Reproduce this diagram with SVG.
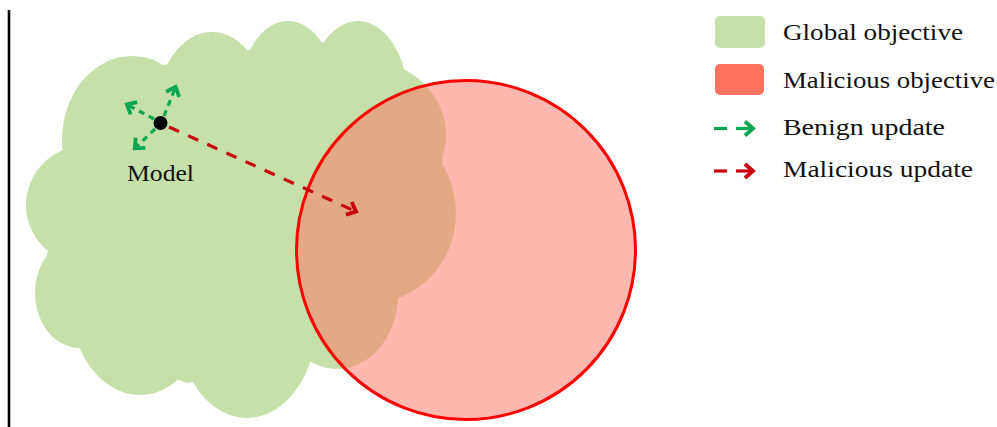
<svg xmlns="http://www.w3.org/2000/svg" width="997" height="427" viewBox="0 0 997 427">
<style>
.cloud{fill:#c5e1a9}
.lbl{font-family:"Liberation Serif","Times New Roman",serif;font-size:24px;fill:#111}
.gdash{fill:none;stroke:#0ba64f;stroke-width:3.2;stroke-dasharray:6 5}
.rdash{fill:none;stroke:#c8000a;stroke-width:3.2;stroke-dasharray:11 10}
.ghead{fill:none;stroke:#0ba64f;stroke-width:3.8;stroke-linejoin:miter;stroke-linecap:butt}
.rhead{fill:none;stroke:#c8000a;stroke-width:3.8;stroke-linejoin:miter;stroke-linecap:butt}
</style>
<defs>
<marker id="ag" markerUnits="userSpaceOnUse" markerWidth="24" markerHeight="24" refX="12" refY="12" orient="auto" overflow="visible">
<path d="M3,5 L11,12 L3,19" class="ghead"/>
</marker>
<marker id="ar" markerUnits="userSpaceOnUse" markerWidth="24" markerHeight="24" refX="12" refY="12" orient="auto" overflow="visible">
<path d="M3,5 L11,12 L3,19" class="rhead"/>
</marker>
</defs>
<rect width="997" height="427" fill="#ffffff"/>
<line x1="9" y1="10" x2="9" y2="427" stroke="#000" stroke-width="2.6"/>
<g id="global-objective">
<g class="cloud">
<polygon points="64,150 163,65 248,50 322,42 405,70 443,160 398,297 310,362 187,383 83,347 47,255"/>
<ellipse cx="132" cy="140" rx="70" ry="84"/>
<ellipse cx="212" cy="110" rx="55" ry="78"/>
<ellipse cx="288" cy="95" rx="48" ry="74"/>
<ellipse cx="358" cy="100" rx="50" ry="79"/>
<ellipse cx="370" cy="135" rx="76" ry="73"/>
<ellipse cx="370" cy="213" rx="86" ry="90"/>
<ellipse cx="337" cy="295" rx="61" ry="74"/>
<ellipse cx="247" cy="320" rx="70" ry="98"/>
<ellipse cx="140" cy="300" rx="70" ry="95"/>
<ellipse cx="80" cy="293" rx="45" ry="55"/>
<ellipse cx="88" cy="205" rx="62" ry="60"/>
<ellipse cx="220" cy="220" rx="160" ry="140"/>
</g>
</g>
<g id="malicious-objective">
<circle cx="466" cy="250" r="169.5" fill="#ff7260" fill-opacity="0.5" stroke="#ff0000" stroke-width="3"/>
</g>
<g id="connectors">
<line x1="154" y1="119" x2="126" y2="104" class="gdash" marker-end="url(#ag)"/>
<line x1="164" y1="116" x2="176" y2="86" class="gdash" marker-end="url(#ag)"/>
<line x1="155" y1="129" x2="134" y2="149" class="gdash" marker-end="url(#ag)"/>
<line x1="169" y1="127" x2="357" y2="212" class="rdash" marker-end="url(#ar)"/>
</g>
<g id="model">
<circle cx="160.5" cy="123" r="7" fill="#000"/>
<text x="127" y="181" class="lbl" textLength="67" lengthAdjust="spacingAndGlyphs">Model</text>
</g>
<g id="legend">
<g id="legend-global">
<rect x="715" y="16" width="50" height="32" rx="5" fill="#c5e1a9"/>
<text x="783" y="40" class="lbl" textLength="180" lengthAdjust="spacingAndGlyphs">Global objective</text>
</g>
<g id="legend-malicious">
<rect x="715" y="64" width="49" height="31" rx="5" fill="#ff7260"/>
<text x="783" y="88" class="lbl" textLength="212" lengthAdjust="spacingAndGlyphs">Malicious objective</text>
</g>
<g id="legend-benign-update">
<line x1="714" y1="128.5" x2="727" y2="128.5" stroke="#0ba64f" stroke-width="3.2"/>
<line x1="736" y1="128.5" x2="754" y2="128.5" stroke="#0ba64f" stroke-width="3.2" marker-end="url(#ag)"/>
<text x="783" y="135" class="lbl" textLength="162" lengthAdjust="spacingAndGlyphs">Benign update</text>
</g>
<g id="legend-malicious-update">
<line x1="714" y1="171" x2="727" y2="171" stroke="#c8000a" stroke-width="3.2"/>
<line x1="736" y1="171" x2="754" y2="171" stroke="#c8000a" stroke-width="3.2" marker-end="url(#ar)"/>
<text x="783" y="177" class="lbl" textLength="190" lengthAdjust="spacingAndGlyphs">Malicious update</text>
</g>
</g>
</svg>
